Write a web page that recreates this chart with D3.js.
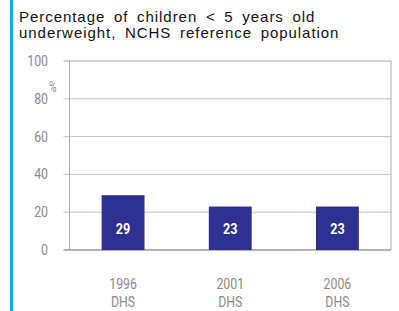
<!DOCTYPE html>
<html>
<head>
<meta charset="utf-8">
<script src="https://cdn.jsdelivr.net/npm/d3@7/dist/d3.min.js"></script>
<style>
  body { margin: 0; background: #fff; }
  svg { display: block; }
</style>
</head>
<body>
<svg id="chart" width="399" height="311"></svg>
<script>
// chart data
const surveys = ["1996", "2001", "2006"];
const surveyType = ["DHS", "DHS", "DHS"];
const underweight = [29, 23, 23];
const yTicks = [0, 20, 40, 60, 80, 100];
const subtitle = ["Percentage of children < 5 years old", "underweight, NCHS reference population"];

const svg = d3.select("#chart");
const margin = { top: 61, right: 8, bottom: 61, left: 69.5 };
const width = 399, height = 311;
const narrowFont = "Roboto, 'DejaVu Sans', sans-serif";

// squeezed text to stand in for the condensed face
function narrowText(sel, xf, yf, sx) {
    return sel.append("text")
        .attr("transform", d => `translate(${xf(d)},${yf(d)}) scale(${sx},1)`)
        .attr("font-family", narrowFont);
}

// blue side stripe
svg.append("rect")
    .attr("x", 10).attr("y", 0)
    .attr("width", 3).attr("height", height)
    .attr("fill", "#1aa9e8");

// subtitle
svg.append("g")
    .selectAll("text")
    .data(subtitle)
    .join("text")
    .attr("x", 19)
    .attr("y", (d, i) => 21.5 + i * 16.3)
    .attr("font-family", "'Liberation Sans', Arial, sans-serif")
    .attr("font-size", 15)
    .attr("letter-spacing", 0.95)
    .attr("word-spacing", 3.6)
    .attr("fill", "#111")
    .text(d => d);

const x = d3.scaleBand()
    .domain(surveys)
    .range([margin.left, width - margin.right])
    .paddingInner(0.6)
    .paddingOuter(0.3);

const y = d3.scaleLinear()
    .domain([0, 100])
    .range([height - margin.bottom, margin.top]);

// gridlines
svg.append("g")
    .selectAll("line")
    .data(yTicks.filter(d => d > 0 && d < 100))
    .join("line")
    .attr("x1", margin.left - 6)
    .attr("x2", width - margin.right)
    .attr("y1", d => y(d)).attr("y2", d => y(d))
    .attr("stroke", "#c4c4c4")
    .attr("stroke-width", 1);

// frame
svg.append("path")
    .attr("d", `M${margin.left - 6},${y(100)}H${width - margin.right}V${y(0)}M${margin.left},${y(100)}V${y(0)}`)
    .attr("fill", "none")
    .attr("stroke", "#aaa");
svg.append("line")
    .attr("x1", margin.left - 6).attr("x2", width - margin.right)
    .attr("y1", y(0)).attr("y2", y(0))
    .attr("stroke", "#999").attr("stroke-width", 1.5);

// y tick labels
const yl = svg.append("g")
    .selectAll("g")
    .data(yTicks)
    .join("g");
narrowText(yl, () => 48, d => y(d) + 5, 0.88)
    .attr("text-anchor", "end")
    .attr("font-size", 14)
    .attr("fill", "#8a8a8a")
    .text(d => d);

svg.append("text")
    .attr("transform", "translate(49,92) scale(0.7,1)")
    .attr("font-family", narrowFont)
    .attr("font-size", 14.5)
    .attr("fill", "#8a8a8a")
    .text("%");

// bars
const bars = svg.append("g")
    .selectAll("g")
    .data(surveys.map((s, i) => ({ survey: s, value: underweight[i] })))
    .join("g");

bars.append("rect")
    .attr("x", d => x(d.survey))
    .attr("y", d => y(d.value))
    .attr("width", x.bandwidth())
    .attr("height", d => y(0) - y(d.value))
    .attr("fill", "#2e3192");

narrowText(bars, d => x(d.survey) + x.bandwidth() / 2, () => 233.5, 0.9)
    .attr("text-anchor", "middle")
    .attr("font-weight", "bold")
    .attr("font-size", 14)
    .attr("fill", "#fff")
    .text(d => d.value);

// x labels
const xg = svg.append("g")
    .selectAll("g")
    .data(surveys.map((s, i) => ({ survey: s, type: surveyType[i] })))
    .join("g");

narrowText(xg, d => x(d.survey) + x.bandwidth() / 2, () => 288.5, 0.88)
    .attr("text-anchor", "middle")
    .attr("font-size", 14)
    .attr("fill", "#8a8a8a")
    .text(d => d.survey);
narrowText(xg, d => x(d.survey) + x.bandwidth() / 2, () => 306.5, 0.88)
    .attr("text-anchor", "middle")
    .attr("font-size", 14)
    .attr("fill", "#8a8a8a")
    .text(d => d.type);
</script>
</body>
</html>
